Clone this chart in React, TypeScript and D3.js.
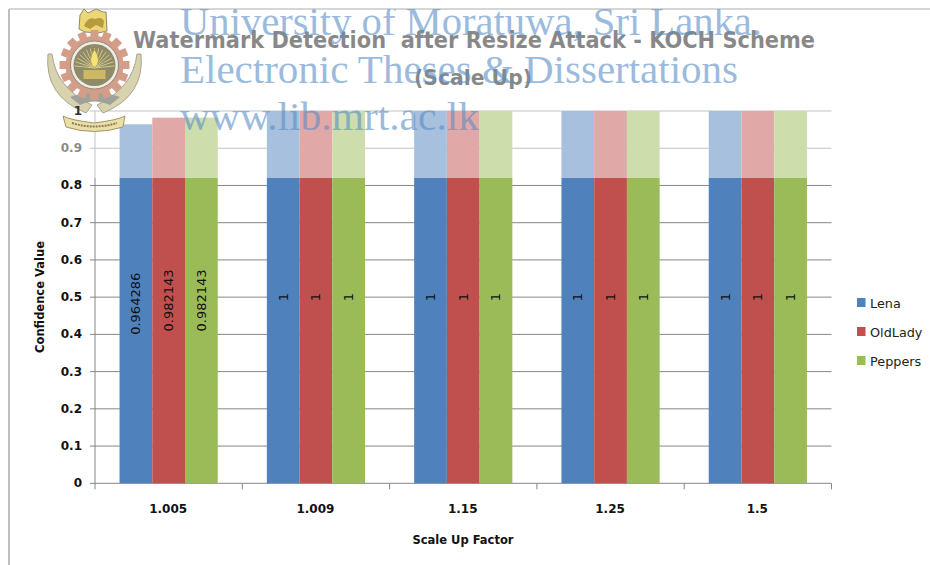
import React from "react";
import * as d3 from "d3";

const categories = ["1.005", "1.009", "1.15", "1.25", "1.5"];
const seriesNames = ["Lena", "OldLady", "Peppers"];
const lena = [0.964286, 1, 1, 1, 1];
const oldLady = [0.982143, 1, 1, 1, 1];
const peppers = [0.982143, 1, 1, 1, 1];
const yTicks = [0, 0.1, 0.2, 0.3, 0.4, 0.5, 0.6, 0.7, 0.8, 0.9, 1];
const colors = ["#4f81bd", "#c0504d", "#9bbb59"];

const W = 930, H = 565;
const left = 95, right = 831.5, top = 111, bottom = 483.3, washY = 178;
const axisFont = "'DejaVu Sans', sans-serif";

function Logo() {
  const cx = 94.5, cy = 65;
  const teeth = d3.range(16).map((i) => (i * 360) / 16);
  const rays = d3.range(15).map((i) => -90 + (i - 7) * 12);
  return (
    <g>
      {/* lion crest */}
      <path d="M80 15 L84 9 L88 13 L96 9 L103 12 L106 12 L107 31 L98 33 L85 32 L79 29 Z" fill="#ecd777" stroke="#8f8a6a" strokeWidth={1} />
      <path d="M84 26 Q88 16 95 19 Q102 16 104 21 L103 28 L96 25 L90 29 Z" fill="#b69a3e" />
      {/* wreath */}
      <path d="M48 54 Q44 96 86 113 L92 105 Q56 88 52 54 Z" fill="#d9d2ae" stroke="#a9a48c" strokeWidth={1} />
      <path d="M141 54 Q145 96 103 113 L97 105 Q133 88 137 54 Z" fill="#d9d2ae" stroke="#a9a48c" strokeWidth={1} />
      <path d="M70 97 Q94 88 120 97 L110 105 Q94 98 80 105 Z" fill="#9da39a" />
      {/* gear */}
      {teeth.map((a) => (
        <rect key={a} x={cx - 4} y={cy - 35} width={8} height={8} fill="#d49d88" transform={`rotate(${a} ${cx} ${cy})`} />
      ))}
      <circle cx={cx} cy={cy} r={29} fill="#d49d88" />
      <circle cx={cx} cy={cy} r={24} fill="#f0ecdc" stroke="#8a8a8a" strokeWidth={1} />
      <circle cx={cx} cy={cy} r={21} fill="#8f8a68" />
      {rays.map((a) => (
        <line key={a} x1={cx} y1={cy + 3} x2={cx + 20 * Math.cos((a * Math.PI) / 180)} y2={cy + 3 + 20 * Math.sin((a * Math.PI) / 180)} stroke="#d3c78a" strokeWidth={1} />
      ))}
      <path d={`M${cx} ${cy - 16} Q${cx + 8} ${cy - 3} ${cx} ${cy + 3} Q${cx - 8} ${cy - 3} ${cx} ${cy - 16} Z`} fill="#f3e27a" stroke="#9a8a3a" strokeWidth={0.7} />
      <rect x={cx - 11} y={cy + 5} width={22} height={9} fill="#cdb964" />
      {/* ribbon */}
      <path d="M63 116 Q70 120 94 123 Q118 120 125 116 L123 127 Q94 136 66 127 Z" fill="#eadfa8" stroke="#a39566" strokeWidth={1} />
      <path d="M72 123 Q94 130 117 123" fill="none" stroke="#8a7f50" strokeWidth={2} strokeDasharray="2 1" />
    </g>
  );
}

export default function App() {
  const x = d3.scaleBand<string>().domain(categories).range([left, right]);
  const inner = d3.scaleBand<string>().domain(seriesNames).range([0, x.bandwidth()]).paddingOuter(0.75).paddingInner(0);
  const y = d3.scaleLinear().domain([0, 1]).range([bottom, top]);
  const values = [lena, oldLady, peppers];
  const fmt = (v: number) => String(v);

  return (
    <svg width={W} height={H} style={{ position: "absolute", left: 0, top: 0, background: "#fff" }}>
      <defs>
        <clipPath id="page"><rect x={9} y={9} width={W} height={H} /></clipPath>
      </defs>
      {/* gridlines */}
      {yTicks.map((t) => (
        <g key={t}>
          <line x1={left - 5} x2={right} y1={y(t)} y2={y(t)} stroke="#868686" strokeWidth={1} />
          {t !== 1 && (
            <text x={82} y={y(t)} textAnchor="end" dominantBaseline="central" fontFamily={axisFont} fontSize={12} fontWeight="bold" fill="#111">{t}</text>
          )}
        </g>
      ))}
      {/* axes */}
      <line x1={left} x2={left} y1={top} y2={bottom} stroke="#868686" />
      {d3.range(categories.length + 1).map((i) => {
        const px = left + i * x.step();
        return <line key={i} x1={px} x2={px} y1={bottom} y2={bottom + 6} stroke="#868686" />;
      })}
      {/* bars */}
      {seriesNames.map((s, si) =>
        categories.map((c, ci) => (
          <rect key={s + c} x={x(c)! + inner(s)!} width={inner.bandwidth()} y={y(values[si][ci])} height={bottom - y(values[si][ci])} fill={colors[si]} />
        ))
      )}
      {/* data labels */}
      {seriesNames.map((s, si) =>
        categories.map((c, ci) => {
          const cxp = x(c)! + inner(s)! + inner.bandwidth() / 2;
          const cyp = y(values[si][ci] / 2);
          return (
            <text key={s + c} transform={`translate(${cxp},${cyp}) rotate(-90)`} textAnchor="middle" dominantBaseline="central" fontFamily={axisFont} fontSize={13} fill="#111">{fmt(values[si][ci])}</text>
          );
        })
      )}
      {/* category labels */}
      {categories.map((c) => (
        <text key={c} x={x(c)! + x.bandwidth() / 2 - 0.5} y={509} textAnchor="middle" dominantBaseline="central" fontFamily={axisFont} fontSize={12} fontWeight="bold" fill="#111">{c}</text>
      ))}
      <text x={463} y={540} textAnchor="middle" dominantBaseline="central" fontFamily={axisFont} fontSize={11.5} fontWeight="bold" fill="#111">Scale Up Factor</text>
      <text transform="translate(40,297) rotate(-90)" textAnchor="middle" dominantBaseline="central" fontFamily={axisFont} fontSize={11.5} fontWeight="bold" fill="#111">Confidence Value</text>
      {/* legend */}
      {seriesNames.map((s, i) => (
        <g key={s}>
          <rect x={857} y={298 + i * 29} width={8.5} height={9} fill={colors[i]} />
          <text x={870} y={303 + i * 29} dominantBaseline="central" fontFamily={axisFont} fontSize={12.8} fill="#222">{s}</text>
        </g>
      ))}
      {/* title */}
      <text x={474} y={40} textAnchor="middle" dominantBaseline="central" fontFamily={axisFont} fontSize={23} fontWeight="bold" fill="#111" textLength={682} lengthAdjust="spacingAndGlyphs" xmlSpace="preserve">Watermark Detection  after Resize Attack - KOCH Scheme</text>
      <text x={473} y={77} textAnchor="middle" dominantBaseline="central" fontFamily={axisFont} fontSize={22} fontWeight="bold" fill="#111" textLength={118} lengthAdjust="spacingAndGlyphs">(Scale Up)</text>
      {/* fade over top of the page */}
      <rect x={0} y={0} width={W} height={washY} fill="#fff" opacity={0.5} />
      {/* frame */}
      <line x1={9} x2={9} y1={9} y2={H} stroke="#a8a8a8" strokeWidth={1.5} />
      <line x1={9} x2={W} y1={9} y2={9} stroke="#c8c8c8" strokeWidth={1.5} />
      <Logo />
      <text x={82} y={y(1)} textAnchor="end" dominantBaseline="central" fontFamily={axisFont} fontSize={12} fontWeight="bold" fill="#333">{yTicks[10]}</text>
      {/* watermark */}
      <g clipPath="url(#page)" fontFamily="'Liberation Serif', serif" fill="#5a8ec8" opacity={0.6}>
        <text x={180} y={35} fontSize={39} textLength={582} lengthAdjust="spacingAndGlyphs">University of Moratuwa, Sri Lanka.</text>
        <text x={180} y={83} fontSize={39} textLength={558} lengthAdjust="spacingAndGlyphs">Electronic Theses &amp; Dissertations</text>
        <text x={180} y={130} fontSize={39} textLength={299} lengthAdjust="spacingAndGlyphs">www.lib.mrt.ac.lk</text>
      </g>
    </svg>
  );
}
